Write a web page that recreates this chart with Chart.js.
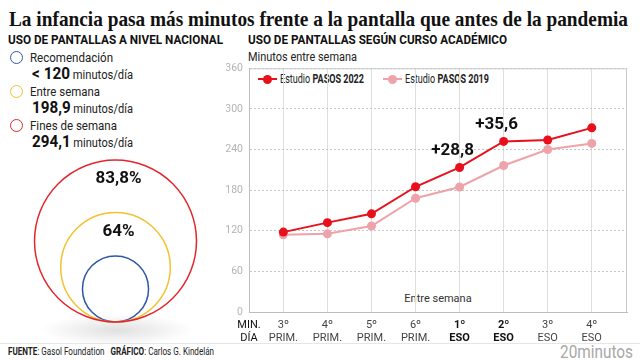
<!DOCTYPE html>
<html>
<head>
<meta charset="utf-8">
<script src="https://cdn.jsdelivr.net/npm/chart.js@4.4.1/dist/chart.umd.min.js"></script>
<style>
  body { margin: 0; width: 640px; height: 360px; background: #fff; position: relative; overflow: hidden; font-family: Roboto, sans-serif; color: #222; }
  .t { position: absolute; white-space: nowrap; line-height: 1; transform-origin: 0 50%; }
  .ring { position: absolute; width: 11px; height: 11px; border-radius: 50%; border: 1.5px solid; }
  .leg-line { position: absolute; height: 2px; }
  .leg-dot { position: absolute; width: 9px; height: 9px; border-radius: 50%; }
  canvas { position: absolute; }
</style>
</head>
<body>
<!-- TEXTOS FIJOS -->
<div class="t" data-w="619" style="left:9px;top:19px;font-family:'Liberation Serif',serif;font-weight:bold;font-size:21px;color:#111">La infancia pasa más minutos frente a la pantalla que antes de la pandemia</div>
<div class="t" data-w="215" style="left:8px;top:40px;font-weight:bold;font-size:12.5px;color:#111">USO DE PANTALLAS A NIVEL NACIONAL</div>
<div class="t" data-w="259" style="left:248px;top:40px;font-weight:bold;font-size:12.5px;color:#111">USO DE PANTALLAS SEGÚN CURSO ACADÉMICO</div>
<div class="t" data-w="109" style="left:248px;top:57px;font-size:12.5px;color:#222">Minutos entre semana</div>
<div class="t" style="left:438px;top:298px;font-size:11px;color:#333;transform:translate(-50%,-50%)">Entre semana</div>
<div id="leyendaUso"></div>
<div id="leyendaPasos"></div>
<div style="position:absolute;left:0;top:343px;width:640px;height:1px;background:#e6e6e6"></div>
<div class="t" data-w="206" style="left:8px;top:352px;font-size:10.5px;color:#222"><b>FUENTE</b>: Gasol Foundation &nbsp;&nbsp;<b>GRÁFICO</b>: Carlos G. Kindelán</div>
<div class="t" data-w="73" style="left:560px;top:352px;font-size:18px;color:#a8a8a8">20minutos</div>
<div style="position:absolute;left:40px;top:314px;width:155px;height:32px;border-radius:50%;background:radial-gradient(ellipse at center, rgba(0,0,0,0.12) 0%, rgba(0,0,0,0) 70%)"></div>

<canvas id="circulos" width="235" height="180" style="left:0;top:150px;width:235px;height:180px"></canvas>
<canvas id="myChart" width="410" height="296" style="left:226px;top:56px;width:410px;height:296px"></canvas>

<script>
//DATOS - USO A NIVEL NACIONAL
const usoLabels = ["Recomendación", "Entre semana", "Fines de semana"];
const usoMinutos = [120, 198.9, 294.1];
const usoTexto = ["< 120", "198,9", "294,1"];
const usoPct = ["", "64%", "83,8%"];
const usoColours = ["#2d58a6", "#f1c232", "#e3262d"];

//DATOS - CURSO ACADEMICO
const cursos = ["3º PRIM.", "4º PRIM.", "5º PRIM.", "6º PRIM.", "1º ESO", "2º ESO", "3º ESO", "4º ESO"];
const cursosBold = ["1º ESO", "2º ESO"];
const pasos2022 = [118, 132, 145, 185, 213.5, 252, 254, 272];
const pasos2019 = [114, 115.5, 127, 168, 184.7, 216.4, 240, 249];
const saltoIdx = [4, 5];
const saltoTexto = ["+28,8", "+35,6"];
const yMax = 360;
const yStep = 60;
const minDia = ["MIN.", "DÍA"];

const RED = "#e8101a";
const PINK = "#eda3a9";

//LEYENDA IZQUIERDA
let html = "";
usoLabels.forEach((lab, i) => {
  const y = 58 + i * 34;
  html += `<div class="ring" style="left:10px;top:${y - 7}px;border-color:${usoColours[i]}"></div>`;
  html += `<div class="t" data-w="${[83, 70, 87][i]}" style="left:30px;top:${y - 1}px;font-size:13px;color:#222">${lab}</div>`;
  html += `<div class="t" data-w="101" style="left:32px;top:${y + 16}px;font-size:12px;color:#222"><b style="font-size:16.5px;color:#111">${usoTexto[i].replace("<", "&lt;")}</b> minutos/día</div>`;
});
document.getElementById("leyendaUso").innerHTML = html;

//LEYENDA DERECHA
const legItems = [
  { x: 258, colour: RED, text: "Estudio <b>PASOS 2022</b>" },
  { x: 383, colour: PINK, text: "Estudio <b>PASOS 2019</b>" },
];
html = "";
legItems.forEach((it) => {
  html += `<div class="leg-line" style="left:${it.x}px;top:78px;width:19px;background:${it.colour}"></div>`;
  html += `<div class="leg-dot" style="left:${it.x + 5}px;top:74.5px;background:${it.colour}"></div>`;
  html += `<div class="t" data-w="84" style="left:${it.x + 22}px;top:79px;font-size:12px;color:#222">${it.text}</div>`;
});
document.getElementById("leyendaPasos").innerHTML = html;

//AJUSTAR ANCHO DE TEXTOS
document.querySelectorAll(".t").forEach((el) => {
  const w = +el.dataset.w;
  if (!w) return;
  const s = w / el.getBoundingClientRect().width;
  el.style.transform = `translateY(-50%) scaleX(${s})`;
});

//CIRCULOS (BUBBLE)
const circleScale = 81 / 294.1;
const circleLabels = {
  id: "circleLabels",
  afterDatasetsDraw(chart) {
    const ctx = chart.ctx;
    const meta = chart.getDatasetMeta(0);
    ctx.save();
    ctx.font = "bold 17px Roboto";
    ctx.fillStyle = "#111";
    ctx.textAlign = "center";
    ctx.textBaseline = "middle";
    meta.data.forEach((p, i) => {
      if (!usoPct[i]) return;
      const r = usoMinutos[i] * circleScale;
      ctx.fillText(usoPct[i], p.x + 3, p.y - r + 19);
    });
    ctx.restore();
  },
};

new Chart(document.getElementById("circulos"), {
  type: "bubble",
  data: {
    datasets: [
      {
        data: usoMinutos.map((v) => ({ x: 115.5, y: 8 + v * circleScale, r: v * circleScale })),
        borderColor: usoColours,
        backgroundColor: "rgba(0,0,0,0)",
        borderWidth: 1.5,
        clip: false,
      },
    ],
  },
  options: {
    responsive: false,
    animation: false,
    events: [],
    layout: { padding: 0, autoPadding: false },
    plugins: { legend: { display: false }, tooltip: { enabled: false } },
    scales: {
      x: { display: false, min: 0, max: 235 },
      y: { display: false, min: 0, max: 180 },
    },
  },
  plugins: [circleLabels],
});

//GRAFICO DE LINEAS
const frame = {
  id: "frame",
  beforeDatasetsDraw(chart) {
    const { ctx, chartArea: a } = chart;
    ctx.save();
    ctx.strokeStyle = "#c9c9c9";
    ctx.lineWidth = 1;
    ctx.beginPath();
    ctx.moveTo(a.left, a.top + 0.5);
    ctx.lineTo(a.right - 0.5, a.top + 0.5);
    ctx.lineTo(a.right - 0.5, a.bottom);
    ctx.stroke();
    ctx.restore();
  },
};

const saltos = {
  id: "saltos",
  afterDatasetsDraw(chart) {
    const ctx = chart.ctx;
    const meta = chart.getDatasetMeta(0);
    ctx.save();
    ctx.font = "bold 17px Roboto";
    ctx.fillStyle = "#111";
    ctx.textAlign = "center";
    ctx.textBaseline = "middle";
    saltoIdx.forEach((idx, i) => {
      const p = meta.data[idx];
      ctx.fillText(saltoTexto[i], p.x - 7, p.y - 17);
    });
    ctx.restore();
  },
};

const xMin = -0.78;
new Chart(document.getElementById("myChart"), {
  type: "line",
  data: {
    datasets: [
      {
        label: "PASOS 2022",
        data: pasos2022.map((y, i) => ({ x: i, y })),
        borderColor: RED,
        backgroundColor: RED,
        borderWidth: 2,
        pointRadius: 4.5,
        pointBorderWidth: 0,
      },
      {
        label: "PASOS 2019",
        data: pasos2019.map((y, i) => ({ x: i, y })),
        borderColor: PINK,
        backgroundColor: PINK,
        borderWidth: 2,
        pointRadius: 4.5,
        pointBorderWidth: 0,
      },
    ],
  },
  options: {
    responsive: false,
    animation: false,
    events: [],
    layout: { padding: { top: 7, right: 9, left: 0, bottom: 0 }, autoPadding: false },
    plugins: { legend: { display: false }, tooltip: { enabled: false } },
    scales: {
      x: {
        type: "linear",
        min: xMin,
        max: 7.8,
        afterBuildTicks: (s) => {
          s.ticks = [{ value: xMin }].concat(cursos.map((_, i) => ({ value: i })));
        },
        afterFit: (s) => {
          s.height = 40;
        },
        ticks: {
          autoSkip: false,
          maxRotation: 0,
          padding: 6,
          color: (c) => (c.tick && c.tick.value >= 0 && !cursosBold.includes(cursos[c.tick.value]) ? "#444" : "#111"),
          font: (c) => ({
            family: "Roboto",
            size: 11,
            lineHeight: 1.25,
            weight: c.tick && c.tick.value >= 0 && cursosBold.includes(cursos[c.tick.value]) ? "bold" : "normal",
          }),
          callback: (v) => (v < 0 ? minDia : cursos[v].split(" ")),
        },
        grid: { color: "#dedede", drawTicks: false },
        border: { color: "#bdbdbd" },
      },
      y: {
        min: 0,
        max: yMax,
        afterFit: (s) => {
          s.width = 23;
        },
        ticks: { stepSize: yStep, color: "#b3b3b3", padding: 6, font: { family: "Roboto", size: 10.5 } },
        grid: { color: "#c6c6c6", drawTicks: false },
        border: { color: "#bdbdbd", dash: [2, 2] },
      },
    },
  },
  plugins: [frame, saltos],
});
</script>
</body>
</html>
